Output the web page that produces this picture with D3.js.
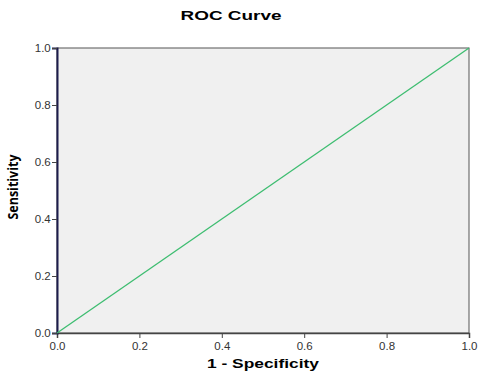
<!DOCTYPE html>
<html>
<head>
<meta charset="utf-8">
<script src="https://cdn.jsdelivr.net/npm/d3@7"></script>
<style>
  body { margin: 0; background: #fff; }
</style>
</head>
<body>
<div id="chart"></div>
<script>
// ROC curve points (1 - specificity, sensitivity)
const fpr = [0, 1];
const tpr = [0, 1];
const xTicks = [0, 0.2, 0.4, 0.6, 0.8, 1.0];
const yTicks = [0, 0.2, 0.4, 0.6, 0.8, 1.0];

const width = 490, height = 379;
const margin = { top: 48, right: 21, bottom: 46, left: 57 };
const font = "'Liberation Sans', Arial, sans-serif";

const svg = d3.select("#chart").append("svg")
    .attr("width", width)
    .attr("height", height);

const x = d3.scaleLinear().domain([0, 1]).range([margin.left, width - margin.right]);
const y = d3.scaleLinear().domain([0, 1]).range([height - margin.bottom, margin.top]);

// plot background
svg.append("rect")
    .attr("x", x(0)).attr("y", y(1))
    .attr("width", x(1) - x(0)).attr("height", y(0) - y(1))
    .attr("fill", "#f0f0f0")
    .attr("stroke", "#555").attr("stroke-width", 1);

// axes
const xAxis = svg.append("g")
    .attr("transform", `translate(0,${y(0)})`)
    .call(d3.axisBottom(x).tickValues(xTicks).tickFormat(d3.format(".1f")).tickSize(5));
const yAxis = svg.append("g")
    .attr("transform", `translate(${x(0)},0)`)
    .call(d3.axisLeft(y).tickValues(yTicks).tickFormat(d3.format(".1f")).tickSize(5));

[xAxis, yAxis].forEach(g => {
    g.attr("font-family", font);
    g.selectAll("text").attr("font-size", 11.5).attr("fill", "#333");
    g.selectAll("line").attr("stroke", "#444");
});
xAxis.select(".domain").attr("stroke", "#444").attr("stroke-width", 1.5);
yAxis.select(".domain").attr("stroke", "#1c1c4c").attr("stroke-width", 2);
xAxis.selectAll(".tick text").attr("dy", "0.75em");
yAxis.selectAll(".tick text").attr("dx", "0.15em");

// ROC line
const line = d3.line().x((d, i) => x(fpr[i])).y((d, i) => y(tpr[i]));
svg.append("path")
    .datum(fpr)
    .attr("d", line)
    .attr("fill", "none")
    .attr("stroke", "#3dbd70")
    .attr("stroke-width", 1.3);

// title and labels
svg.append("text")
    .attr("x", 231).attr("y", 19.5)
    .attr("text-anchor", "middle")
    .attr("font-family", font)
    .attr("font-size", 13.5).attr("font-weight", "bold")
    .attr("textLength", 101).attr("lengthAdjust", "spacingAndGlyphs")
    .text("ROC Curve");

svg.append("text")
    .attr("x", 263).attr("y", 368)
    .attr("text-anchor", "middle")
    .attr("font-family", font)
    .attr("font-size", 13).attr("font-weight", "bold")
    .attr("textLength", 112).attr("lengthAdjust", "spacingAndGlyphs")
    .text("1 - Specificity");

svg.append("text")
    .attr("transform", "translate(18,187) rotate(-90)")
    .attr("text-anchor", "middle")
    .attr("font-size", 14).attr("font-weight", "bold")
    .attr("font-family", "'Open Sans', 'Liberation Sans Narrow', sans-serif")
    .attr("textLength", 65).attr("lengthAdjust", "spacingAndGlyphs")
    .text("Sensitivity");
</script>
</body>
</html>
